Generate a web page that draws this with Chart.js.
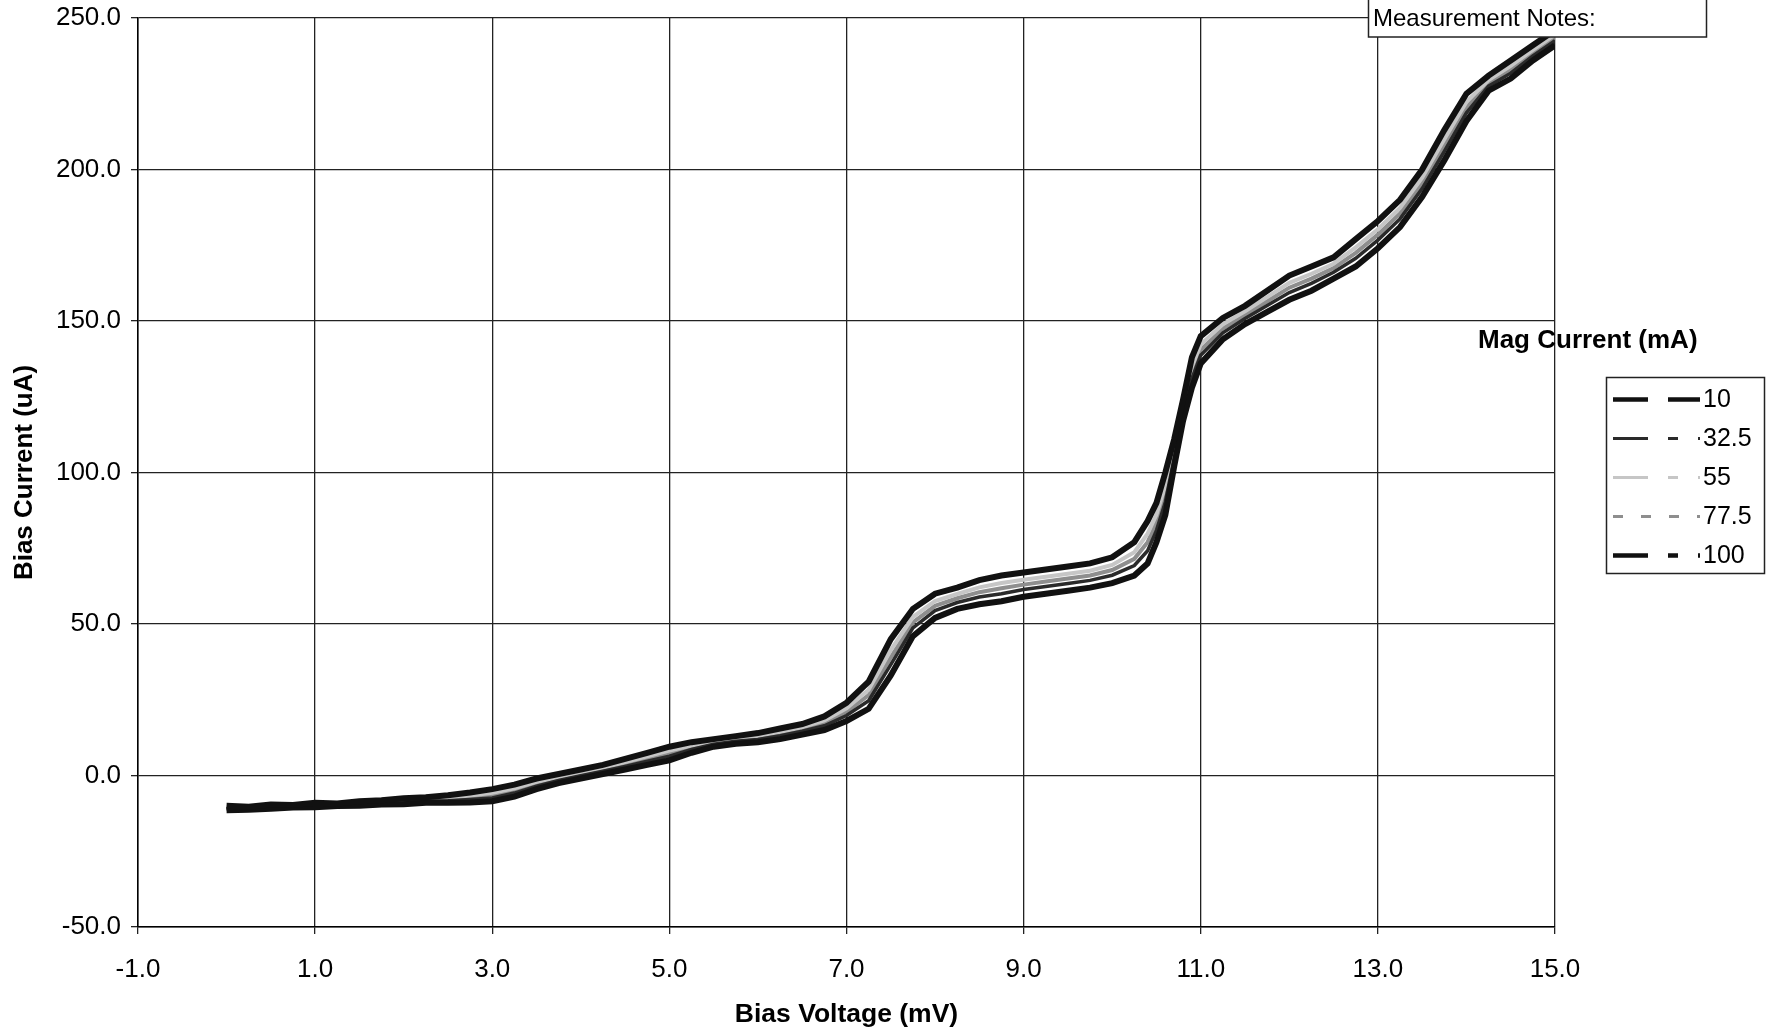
<!DOCTYPE html>
<html lang="en">
<head>
<meta charset="UTF-8">
<title>Bias Current vs Bias Voltage</title>
<script src="https://cdn.jsdelivr.net/npm/chart.js"></script>
<style>
    body { margin: 0; background: #fff; }
    #wrap { width: 1769px; height: 1033px; position: relative; }
</style>
</head>
<body>
<div id="wrap"><canvas id="ivChart"></canvas></div>
<script>
// Bias voltage (mV), shared by every trace
const biasVoltage = [0, 0.25, 0.5, 0.75, 1, 1.25, 1.5, 1.75, 2, 2.25, 2.5, 2.75, 3,
    3.25, 3.5, 3.75, 4, 4.25, 4.5, 4.75, 5, 5.25, 5.5, 5.75, 6,
    6.25, 6.5, 6.75, 7, 7.25, 7.5, 7.75, 8, 8.25, 8.5, 8.75, 9,
    9.25, 9.5, 9.75, 10, 10.25,
    10.4, 10.5, 10.6, 10.7, 10.8, 10.9, 11,
    11.25, 11.5, 11.75, 12, 12.25, 12.5, 12.75, 13, 13.25, 13.5, 13.75, 14, 14.25, 14.5, 14.75, 15];

// Bias current (uA) for each magnet current
const mag10 = [-10.0, -10.3, -9.6, -9.7, -9.0, -9.2, -8.5, -8.2, -7.5, -7.2, -6.5, -5.6, -4.5,
    -3.0, -1.0, 0.5, 2.0, 3.5, 5.5, 7.5, 9.5, 11.0, 12.0, 13.0, 14.0,
    15.5, 17.0, 19.5, 24.0, 31.0, 45.0, 55.0, 60.0, 62.0, 64.5, 66.0, 67.0,
    68.0, 69.0, 70.0, 72.0, 77.0,
    84.0, 90.0, 100.0, 111.0, 124.0, 138.0, 145.0,
    151.0, 155.0, 160.0, 165.0, 168.0, 171.0, 177.0, 183.0, 190.0, 200.0, 213.0, 225.0, 231.0, 236.0, 241.0, 246.0];
const mag32 = [-11.0, -11.0, -10.6, -10.3, -10.0, -9.8, -9.5, -9.1, -8.9, -8.4, -8.3, -7.9, -7.4,
    -5.8, -3.5, -1.6, -0.1, 1.4, 3.0, 4.7, 6.4, 8.6, 10.3, 11.3, 11.9,
    13.1, 14.6, 16.4, 19.8, 24.7, 36.6, 48.7, 54.4, 57.1, 58.9, 60.0, 61.4,
    62.4, 63.4, 64.4, 66.1, 69.3,
    74.2, 80.9, 90.2, 104.7, 119.1, 131.0, 138.7,
    146.1, 150.8, 155.1, 159.4, 162.4, 166.1, 170.7, 176.7, 183.7, 193.7, 206.0, 218.7, 227.5, 231.8, 237.5, 242.5];
const mag55 = [-10.5, -10.6, -10.0, -10.0, -9.5, -9.4, -9.0, -8.6, -8.1, -7.7, -7.3, -6.6, -5.7,
    -4.2, -2.1, -0.4, 1.1, 2.6, 4.4, 6.3, 8.2, 9.9, 11.3, 12.3, 13.1,
    14.4, 16.0, 18.2, 22.2, 28.3, 41.4, 52.3, 57.6, 59.9, 62.1, 63.5, 64.6,
    65.6, 66.6, 67.6, 69.5, 73.7,
    79.8, 86.1, 95.8, 108.3, 121.9, 135.0, 142.3,
    148.9, 153.2, 157.9, 162.6, 165.6, 168.9, 174.3, 180.3, 187.3, 197.3, 210.0, 222.3, 229.5, 234.2, 239.5, 244.5];
const mag77 = [-10.8, -10.8, -10.3, -10.1, -9.8, -9.6, -9.3, -8.9, -8.5, -8.1, -7.8, -7.3, -6.5,
    -5.0, -2.8, -1.0, 0.5, 2.0, 3.8, 5.5, 7.3, 9.3, 10.8, 11.8, 12.5,
    13.8, 15.3, 17.3, 21.0, 26.5, 39.0, 50.5, 56.0, 58.5, 60.5, 61.8, 63.0,
    64.0, 65.0, 66.0, 67.8, 71.5,
    77.0, 83.5, 93.0, 106.5, 120.5, 133.0, 140.5,
    147.5, 152.0, 156.5, 161.0, 164.0, 167.5, 172.5, 178.5, 185.5, 195.5, 208.0, 220.5, 228.5, 233.0, 238.5, 243.5];
const mag100 = [-11.5, -11.3, -11.0, -10.6, -10.5, -10.1, -10.0, -9.6, -9.5, -9.0, -9.0, -8.9, -8.5,
    -7.0, -4.5, -2.5, -1.0, 0.5, 2.0, 3.5, 5.0, 7.5, 9.5, 10.5, 11.0,
    12.0, 13.5, 15.0, 18.0, 22.0, 33.0, 46.0, 52.0, 55.0, 56.5, 57.5, 59.0,
    60.0, 61.0, 62.0, 63.5, 66.0,
    70.0, 77.0, 86.0, 102.0, 117.0, 128.0, 136.0,
    144.0, 149.0, 153.0, 157.0, 160.0, 164.0, 168.0, 174.0, 181.0, 191.0, 203.0, 216.0, 226.0, 230.0, 236.0, 241.0];

const magLabels = ['10', '32.5', '55', '77.5', '100'];
const xTicks = [-1, 1, 3, 5, 7, 9, 11, 13, 15];
const yTicks = [-50, 0, 50, 100, 150, 200, 250];

const FONT = '"Liberation Sans", Arial, Helvetica, sans-serif';

function toPoints(ys) {
    return biasVoltage.map((x, i) => ({ x: x, y: ys[i] }));
}

// notes box, legend title and legend drawn on top of the plot
const sideBoxes = {
    id: 'sideBoxes',
    afterDraw(chart) {
        const ctx = chart.ctx;
        ctx.save();
        // Measurement Notes box
        ctx.fillStyle = '#fff';
        ctx.fillRect(1368, 0, 338, 37);
        ctx.strokeStyle = '#222';
        ctx.lineWidth = 1.5;
        ctx.strokeRect(1368.5, -2, 338, 39);
        ctx.fillStyle = '#000';
        ctx.textAlign = 'left';
        ctx.textBaseline = 'middle';
        ctx.font = '24px ' + FONT;
        ctx.fillText('Measurement Notes:', 1373, 19);

        // legend title
        ctx.font = 'bold 26px ' + FONT;
        ctx.fillText('Mag Current (mA)', 1478, 341);

        // legend box
        ctx.fillStyle = '#fff';
        ctx.fillRect(1606, 377, 158, 196);
        ctx.strokeStyle = '#222';
        ctx.lineWidth = 1.5;
        ctx.strokeRect(1606.5, 377.5, 158, 196);
        ctx.font = '25px ' + FONT;
        chart.data.datasets.forEach((ds, i) => {
            const y = 399.5 + i * 39;
            ctx.strokeStyle = ds.borderColor;
            ctx.lineWidth = ds.legendWidth;
            ctx.setLineDash(ds.legendDash);
            ctx.beginPath();
            ctx.moveTo(1613, y);
            ctx.lineTo(1700, y);
            ctx.stroke();
            ctx.setLineDash([]);
            ctx.fillStyle = '#000';
            ctx.fillText(ds.label, 1703, y + 1);
        });
        ctx.restore();
    }
};

const ctx = document.getElementById('ivChart').getContext('2d');
new Chart(ctx, {
    type: 'line',
    data: {
        datasets: [
            { label: magLabels[0], data: toPoints(mag10), borderColor: '#111', borderWidth: 6,
              legendWidth: 4.5, legendDash: [35, 20], order: 0 },
            { label: magLabels[1], data: toPoints(mag32), borderColor: '#2a2a2a', borderWidth: 3.5,
              legendWidth: 3, legendDash: [35, 20, 10, 20], order: 1 },
            { label: magLabels[2], data: toPoints(mag55), borderColor: '#c6c6c6', borderWidth: 4,
              legendWidth: 3, legendDash: [35, 20, 10, 20], order: 2 },
            { label: magLabels[3], data: toPoints(mag77), borderColor: '#8e8e8e', borderWidth: 4,
              legendWidth: 3, legendDash: [10, 18], order: 2 },
            { label: magLabels[4], data: toPoints(mag100), borderColor: '#111', borderWidth: 6,
              legendWidth: 4.5, legendDash: [35, 20, 10, 20], order: 0 }
        ]
    },
    options: {
        responsive: true,
        maintainAspectRatio: false,
        animation: false,
        elements: {
            point: { radius: 0 },
            line: { tension: 0, fill: false }
        },
        layout: { padding: { top: 18, right: 214, left: 0, bottom: 0 } },
        scales: {
            x: {
                type: 'linear',
                min: -1,
                max: 15,
                afterBuildTicks: s => { s.ticks = xTicks.map(v => ({ value: v })); },
                afterFit: s => { s.height = 106; },
                ticks: {
                    color: '#000',
                    font: { family: FONT, size: 26 },
                    padding: 20,
                    maxRotation: 0,
                    callback: v => v.toFixed(1)
                },
                grid: { color: '#222', lineWidth: 1.3, tickLength: 7, tickColor: '#222' },
                border: { color: '#000', width: 1.5 },
                title: {
                    display: true,
                    text: 'Bias Voltage (mV)',
                    color: '#000',
                    font: { family: FONT, size: 26.5, weight: 'bold' },
                    padding: { top: 0, bottom: 2 }
                }
            },
            y: {
                type: 'linear',
                min: -50,
                max: 250,
                afterBuildTicks: s => { s.ticks = yTicks.map(v => ({ value: v })); },
                afterFit: s => { s.width = 138; },
                ticks: {
                    color: '#000',
                    font: { family: FONT, size: 26, lineHeight: 0.6 },
                    padding: 10,
                    callback: v => v.toFixed(1)
                },
                grid: { color: '#222', lineWidth: 1.3, tickLength: 7, tickColor: '#222' },
                border: { color: '#000', width: 1.5 },
                title: {
                    display: true,
                    text: 'Bias Current (uA)',
                    color: '#000',
                    font: { family: FONT, size: 26, weight: 'bold' },
                    padding: { top: 9, bottom: 0 }
                }
            }
        },
        plugins: {
            legend: { display: false },
            tooltip: { enabled: false }
        }
    },
    plugins: [sideBoxes]
});
</script>
</body>
</html>
